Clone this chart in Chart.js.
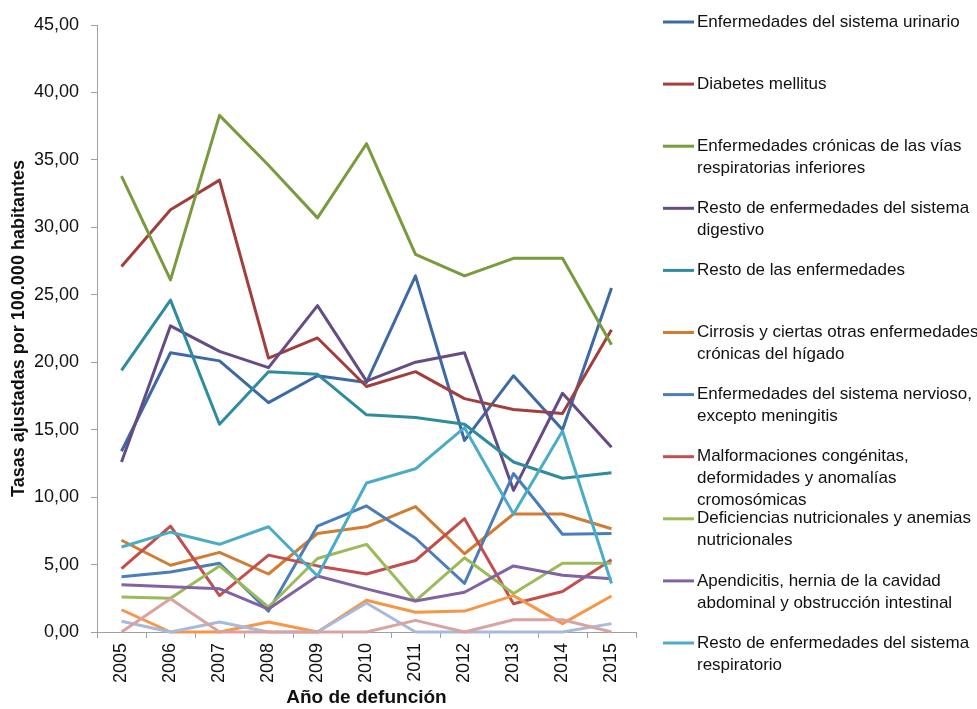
<!DOCTYPE html>
<html>
<head>
<meta charset="utf-8">
<script src="https://cdn.jsdelivr.net/npm/chart.js@4.4.0/dist/chart.umd.min.js"></script>
<style>
  html, body { margin: 0; padding: 0; background: #fff; }
  #wrap { width: 977px; height: 709px; }
</style>
</head>
<body>
<div id="wrap"><canvas id="myChart" width="977" height="709"></canvas></div>
<script>
var anios = ['2005', '2006', '2007', '2008', '2009', '2010', '2011', '2012', '2013', '2014', '2015'];

var urinario       = [13.4, 20.7, 20.1, 17.0, 19.0, 18.5, 26.4, 14.2, 19.0, 15.0, 25.5];
var diabetes       = [27.1, 31.3, 33.5, 20.3, 21.8, 18.2, 19.3, 17.3, 16.5, 16.2, 22.4];
var cronicasResp   = [33.8, 26.1, 38.3, 34.6, 30.7, 36.2, 28.0, 26.4, 27.7, 27.7, 21.3];
var digestivo      = [12.6, 22.7, 20.8, 19.6, 24.2, 18.6, 20.0, 20.7, 10.5, 17.7, 13.7];
var restoEnf       = [19.4, 24.6, 15.4, 19.3, 19.1, 16.1, 15.9, 15.4, 12.6, 11.4, 11.8];
var cirrosis       = [6.8, 4.95, 5.9, 4.3, 7.3, 7.8, 9.3, 5.8, 8.75, 8.75, 7.65];
var nervioso       = [4.1, 4.45, 5.1, 1.55, 7.85, 9.35, 6.95, 3.6, 11.75, 7.25, 7.3];
var malformaciones = [4.7, 7.85, 2.7, 5.7, 4.9, 4.3, 5.3, 8.4, 2.1, 3.0, 5.35];
var deficiencias   = [2.6, 2.5, 4.9, 1.85, 5.45, 6.5, 2.3, 5.5, 2.85, 5.1, 5.1];
var apendicitis    = [3.5, 3.35, 3.2, 1.7, 4.15, 3.2, 2.3, 2.95, 4.9, 4.2, 3.95];
var respiratorio   = [6.3, 7.4, 6.5, 7.8, 4.15, 11.05, 12.1, 15.15, 8.75, 14.9, 3.6];
var otrasA         = [1.65, 0, 0, 0.74, 0, 2.35, 1.46, 1.55, 2.7, 0.62, 2.67];
var otrasB         = [0.8, 0, 0.74, 0, 0, 2.15, 0, 0, 0, 0, 0.62];
var otrasC         = [0, 2.47, 0, 0, 0, 0, 0.86, 0, 0.91, 0.91, 0];

// nombres con los saltos de linea de la leyenda
var nombres = [
    'Enfermedades del sistema urinario',
    'Diabetes mellitus',
    'Enfermedades crónicas de las vías\nrespiratorias inferiores',
    'Resto de enfermedades del sistema\ndigestivo',
    'Resto de las enfermedades',
    'Cirrosis y ciertas otras enfermedades\ncrónicas del hígado',
    'Enfermedades del sistema nervioso,\nexcepto meningitis',
    'Malformaciones congénitas,\ndeformidades y anomalías\ncromosómicas',
    'Deficiencias nutricionales y anemias\nnutricionales',
    'Apendicitis, hernia de la cavidad\nabdominal y obstrucción intestinal',
    'Resto de enfermedades del sistema\nrespiratorio',
    'Otras causas A',
    'Otras causas B',
    'Otras causas C'
];
var series = [urinario, diabetes, cronicasResp, digestivo, restoEnf, cirrosis, nervioso,
              malformaciones, deficiencias, apendicitis, respiratorio, otrasA, otrasB, otrasC];
var colores = ['#3d69a6', '#a23f3c', '#7a9a3e', '#654c84', '#2f8ba0', '#d27c31', '#4a7ebb',
               '#c0504d', '#9bbb59', '#8064a2', '#4bacc6', '#f79646', '#a6badb', '#d8a3a1'];
var enLeyenda = 11;

var fuente = "'Liberation Sans Narrow', 'Arial Narrow', 'Liberation Sans', sans-serif";

var leyenda = {
    id: 'leyenda',
    afterDraw: function (chart) {
        var ctx = chart.ctx;
        ctx.save();
        ctx.font = '17px ' + fuente;
        ctx.fillStyle = '#111';
        ctx.textBaseline = 'middle';
        ctx.textAlign = 'left';
        for (var i = 0; i < enLeyenda; i++) {
            var y = 22 + i * 62.1;
            ctx.strokeStyle = colores[i];
            ctx.lineWidth = 3;
            ctx.beginPath();
            ctx.moveTo(663, y);
            ctx.lineTo(694, y);
            ctx.stroke();
            var lineas = nombres[i].split('\n');
            for (var j = 0; j < lineas.length; j++) {
                ctx.fillText(lineas[j], 697, y + j * 22);
            }
        }
        ctx.restore();
    }
};

var datasets = series.map(function (valores, i) {
    return {
        label: nombres[i].replace(/\n/g, ' '),
        data: valores,
        borderColor: colores[i],
        backgroundColor: colores[i],
        borderWidth: 3,
        borderJoinStyle: 'round',
        pointRadius: 0,
        tension: 0,
        clip: false,
        order: series.length - i
    };
});

var ctx = document.getElementById('myChart').getContext('2d');
var chart = new Chart(ctx, {
    type: 'line',
    data: {
        labels: anios,
        datasets: datasets
    },
    plugins: [leyenda],
    options: {
        responsive: false,
        animation: false,
        layout: {
            padding: { top: 25, right: 341, left: 0, bottom: 0 }
        },
        plugins: {
            legend: { display: false },
            tooltip: { enabled: false }
        },
        scales: {
            x: {
                offset: true,
                grid: {
                    offset: true,
                    drawOnChartArea: false,
                    drawTicks: true,
                    tickLength: 6,
                    color: '#a0a0a0'
                },
                border: { display: true, color: '#a0a0a0', width: 1 },
                ticks: {
                    color: '#111',
                    font: { family: fuente, size: 18 },
                    maxRotation: 90,
                    minRotation: 90,
                    padding: 5
                },
                title: {
                    display: true,
                    text: 'Año de defunción',
                    color: '#111',
                    font: { family: fuente, size: 19, weight: 'bold' },
                    padding: { top: 0, bottom: 0 }
                },
                afterFit: function (scale) { scale.height = 77; }
            },
            y: {
                min: 0,
                max: 45,
                grid: {
                    drawOnChartArea: false,
                    drawTicks: true,
                    tickLength: 6,
                    color: '#a0a0a0'
                },
                border: { display: true, color: '#a0a0a0', width: 1 },
                ticks: {
                    stepSize: 5,
                    color: '#111',
                    padding: 12,
                    font: { family: fuente, size: 18 },
                    callback: function (v) { return v.toFixed(2).replace('.', ','); }
                },
                title: {
                    display: true,
                    text: 'Tasas ajustadas por 100.000 habitantes',
                    color: '#111',
                    font: { family: fuente, size: 18, weight: 'bold' },
                    padding: { top: 8, bottom: 0 }
                },
                afterFit: function (scale) { scale.width = 97; }
            }
        }
    }
});
</script>
</body>
</html>
